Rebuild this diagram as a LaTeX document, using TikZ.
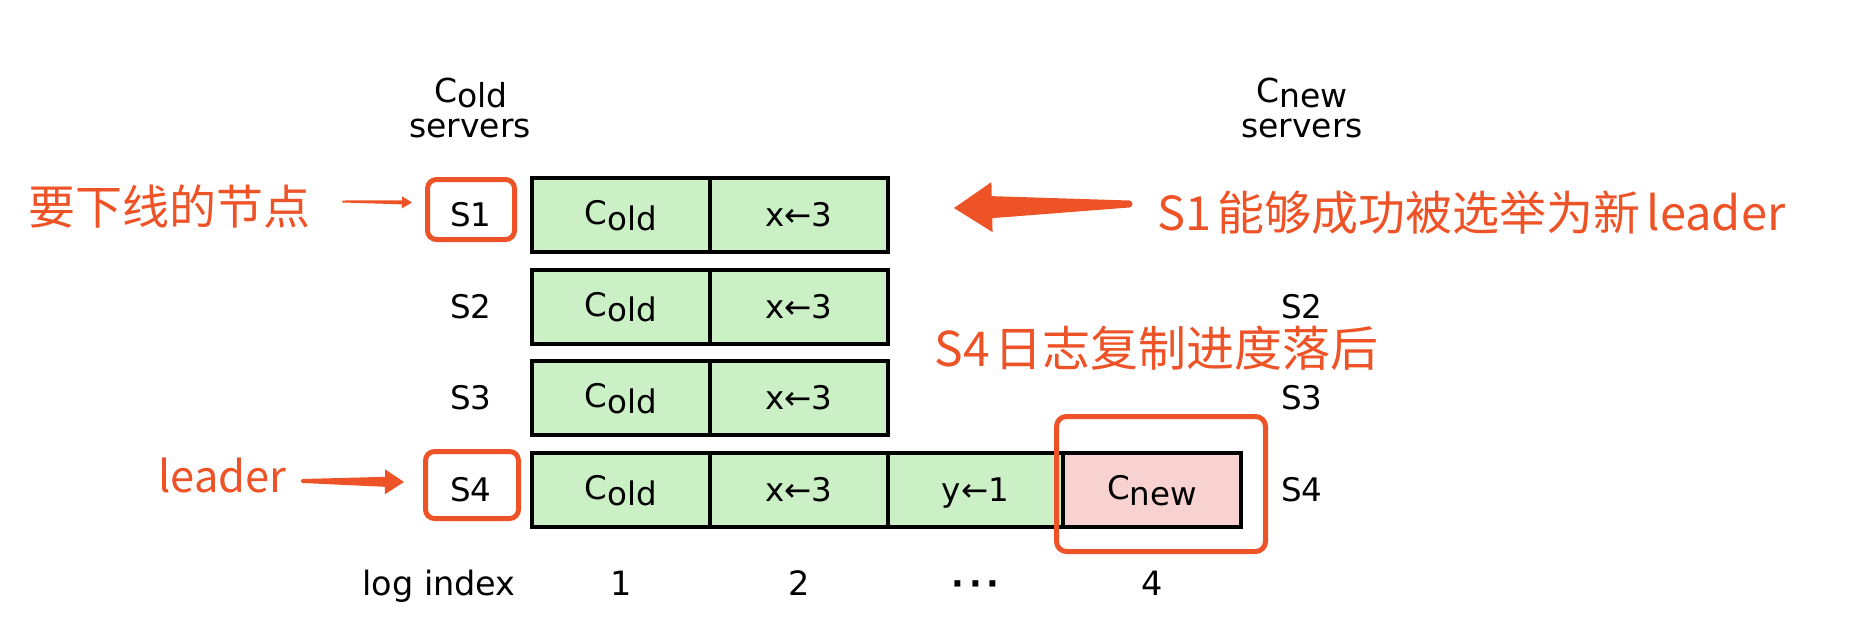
\documentclass[tikz,border=0pt]{standalone}
\usepackage{fontspec}
\setmainfont{DejaVu Sans}
\newfontfamily\cjk{Noto Sans CJK SC}
\usetikzlibrary{calc}
\definecolor{accent}{RGB}{237,83,39}
\definecolor{cellgreen}{RGB}{204,240,198}
\definecolor{cellpink}{RGB}{248,209,209}
\newcommand\Csub[1]{C\raisebox{-5.5pt}{#1}}
\newcommand\taperarrow[6]{%
  \path ($(#2)!#5!(#1)$) coordinate (hb);
  \fill[accent] ($(#1)!#3!90:(#2)$) -- ($(hb)!#4!90:(#2)$) -- ($(hb)!#6!90:(#2)$) -- (#2)
     -- ($(hb)!#6!-90:(#2)$) -- ($(hb)!#4!-90:(#2)$) -- ($(#1)!#3!-90:(#2)$) -- cycle;
  \fill[accent] (#1) circle[radius=#3];
}
\begin{document}
\begin{tikzpicture}[x=1pt,y=-1pt,
  cell/.style={draw=black, line width=4pt, inner sep=0pt, minimum height=74pt, fill=cellgreen},
  txt/.style={font=\fontsize{32.5}{38}\selectfont, inner sep=0pt, anchor=base},
  head/.style={font=\fontsize{33}{38}\selectfont, inner sep=0pt, anchor=base},
  idx/.style={font=\fontsize{33.5}{38}\selectfont, inner sep=0pt, anchor=base},
  note/.style={font=\cjk\fontsize{47}{54}\selectfont, text=accent, inner sep=0pt},
  redbox/.style={draw=accent, line width=5pt, rounded corners=9pt, inner sep=0pt},
]
\useasboundingbox (0,0) rectangle (1856,638);

% headers
\node[head] (oldC) at (471,102) {\Csub{old}};
\node[head] (oldS) at (470,137) {servers};
\node[head] (newC) at (1302,102) {\Csub{new}};
\node[head] (newS) at (1302,137) {servers};

% rows 1-3
\foreach \j/\yc in {1/215, 2/306.7, 3/398.4}{
  \node[cell, minimum width=178pt] (r\j-1) at (621,\yc) {};
  \node[cell, minimum width=178pt] (r\j-2) at (799,\yc) {};
  \node[txt] at ($(r\j-1.center)+(0,9.5)$) {\Csub{old}};
  \node[txt] at ($(r\j-2.center)+(0,11.5)$) {x←3};
  \node[txt] (L\j) at (471,{\yc+11.5}) {S\j};
}
% row 4
\node[cell, minimum width=178pt] (r4-1) at (621,490.1) {};
\node[cell, minimum width=178pt] (r4-2) at (799,490.1) {};
\node[cell, minimum width=175pt] (r4-3) at (975.5,490.1) {};
\node[cell, minimum width=178pt, fill=cellpink] (r4-4) at (1152,490.1) {};
\node[txt] at ($(r4-1.center)+(0,9.5)$) {\Csub{old}};
\node[txt] at ($(r4-2.center)+(0,11.5)$) {x←3};
\node[txt] at ($(r4-3.center)+(0,11.5)$) {y←1};
\node[txt] at ($(r4-4.center)+(0,9.5)$) {\Csub{new}};
\node[txt] (L4) at (471,501.6) {S4};

% right labels
\node[txt] (R2) at (1302,318.2) {S2};
\node[txt] (R3) at (1302,409.9) {S3};
\node[txt] (R4) at (1302,501.6) {S4};

% log index row
\node[idx] (li) at (439,595) {log index};
\node[idx] (i1) at (621,595) {1};
\node[idx] (i2) at (799,595) {2};
\node[idx] (i3) at (975.5,595) {\textbf{·}\kern5pt\textbf{·}\kern5pt\textbf{·}};
\node[idx] (i4) at (1152,595) {4};

% red boxes
\node[redbox, minimum width=87pt, minimum height=60pt] (b1) at (471,209.5) {};
\node[redbox, minimum width=93pt, minimum height=67pt] (b4) at (472,485) {};
\node[redbox, minimum width=209pt, minimum height=135pt, rounded corners=10pt] (bn) at (1161,484) {};

% notes
\node[note] (n1) at (169.5,206.5) {要下线的节点};
\node[note] (n2) at (1471.5,212.5) {S1\hspace{6pt}能够成功被选举为新\hspace{6pt}leader};
\node[note] (n3) at (1156.5,348) {\fontsize{48}{54}\selectfont S4\hspace{4pt}日志复制进度落后};
\node[note, font=\cjk\fontsize{43.5}{50}\selectfont] (n4) at (222.5,475) {leader};

% arrows
\coordinate (a1t) at (343,201.5);
\coordinate (a1h) at (412,202.5);
\coordinate (a2t) at (1129,204);
\coordinate (a2h) at (954,208);
\coordinate (a3t) at (303,481);
\coordinate (a3h) at (404,482);
\taperarrow{a1t}{a1h}{1pt}{2pt}{10pt}{6pt}
\taperarrow{a2t}{a2h}{3.5pt}{11pt}{38pt}{25pt}
\taperarrow{a3t}{a3h}{2pt}{5pt}{19pt}{12.5pt}
\end{tikzpicture}
\end{document}
